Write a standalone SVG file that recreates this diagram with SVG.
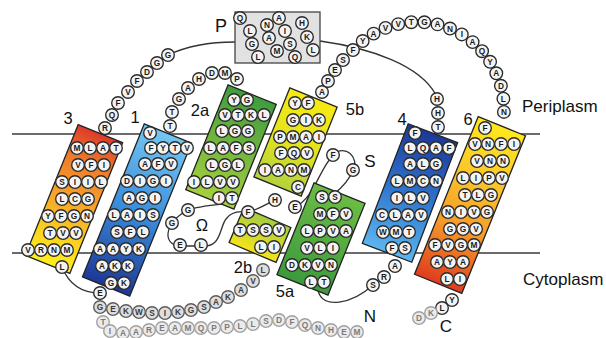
<svg xmlns="http://www.w3.org/2000/svg" width="606" height="338" viewBox="0 0 606 338">
<style>
.bg{fill:#fff}
.mem{stroke:#3a3a3a;stroke-width:1.6}
.con path{fill:none;stroke:#333;stroke-width:1.3}
.hx{stroke:#222;stroke-width:1.3}
.r circle{fill:#f3f3f3;stroke:#2a2a2a;stroke-width:1.35}
.r text{font-family:"Liberation Sans",Arial,sans-serif;font-size:8.3px;font-weight:bold;text-anchor:middle;dominant-baseline:central;fill:#1a1a1a}
.m circle{fill:#dedede;stroke:#5c5c5c}
.m text{fill:#3a3a3a}
.f circle{fill:#ebebeb;stroke:#a0a0a0}
.f text{fill:#7a7a7a}
.lb{font-family:"Liberation Sans",Arial,sans-serif;font-size:16.5px;fill:#111;text-anchor:middle}
.lt{font-family:"Liberation Sans",Arial,sans-serif;font-size:17px;fill:#111}
</style>
<defs>
<linearGradient id="g3" x1="0" y1="0" x2="0" y2="1"><stop offset="0" stop-color="#dc3a2a"/><stop offset=".22" stop-color="#ee7a2c"/><stop offset=".55" stop-color="#f6a92a"/><stop offset=".8" stop-color="#fbd320"/><stop offset="1" stop-color="#fff01c"/></linearGradient>
<linearGradient id="g1" x1="0" y1="0" x2="0" y2="1"><stop offset="0" stop-color="#74c6f2"/><stop offset=".5" stop-color="#3b8edc"/><stop offset="1" stop-color="#1d3896"/></linearGradient>
<linearGradient id="g2a" x1="0" y1="0" x2="0" y2="1"><stop offset="0" stop-color="#3f9c3f"/><stop offset="1" stop-color="#a6d03e"/></linearGradient>
<linearGradient id="g5b" x1="0" y1="0" x2="0" y2="1"><stop offset="0" stop-color="#f7ea14"/><stop offset=".5" stop-color="#e4e31e"/><stop offset="1" stop-color="#b3d23c"/></linearGradient>
<linearGradient id="g2b" x1="0" y1="0" x2="0" y2="1"><stop offset="0" stop-color="#a3cc40"/><stop offset="1" stop-color="#f5e41a"/></linearGradient>
<linearGradient id="g5a" x1="0" y1="0" x2="0" y2="1"><stop offset="0" stop-color="#6cbc44"/><stop offset="1" stop-color="#3c9a3c"/></linearGradient>
<linearGradient id="g4" x1="0" y1="0" x2="0" y2="1"><stop offset="0" stop-color="#1c3898"/><stop offset=".5" stop-color="#2f74cc"/><stop offset="1" stop-color="#5cb6ee"/></linearGradient>
<linearGradient id="g6" x1="0" y1="0" x2="0" y2="1"><stop offset="0" stop-color="#ffe81c"/><stop offset=".3" stop-color="#fbca2a"/><stop offset=".65" stop-color="#f59a2a"/><stop offset="1" stop-color="#de3c1e"/></linearGradient>
</defs>
<rect class="bg" x="0" y="0" width="606" height="338"/>
<g id="membrane">
<line class="mem" x1="12" y1="134" x2="540" y2="134"/>
<line class="mem" x1="12" y1="253" x2="540" y2="253"/>
</g>
<g id="connectors" class="con">
<path d="M168,55 C185,47 205,42 235,42"/>
<path d="M320,41 C370,48 420,65 436,95"/>
<path d="M222,204 C205,206 190,207 180,215 C166,225 162,244 180,246 L201,246 C222,248 219,228 226,219 C231,212 238,211 246,212"/>
<path d="M275,200 C265,205 257,210 248,212"/>
<path d="M295,207 C314,198 318,172 333,155 C345,143 360,158 353,170 C350,178 344,186 334,194"/>
<path d="M373,285 C352,304 322,310 318,290"/>
<path d="M62,267 C70,287 85,293 100,293"/>
</g>
<g id="pbox">
<rect x="235" y="12" width="85" height="51" fill="#e2e2e2" stroke="#444" stroke-width="1.3"/>
<g class="r">
<circle cx="240" cy="18" r="6.3"/><text x="240" y="18">Q</text>
<circle cx="267" cy="25" r="6.3"/><text x="267" y="25">N</text>
<circle cx="279" cy="18" r="6.3"/><text x="279" y="18">A</text>
<circle cx="302" cy="23" r="6.3"/><text x="302" y="23">H</text>
<circle cx="250" cy="31" r="6.3"/><text x="250" y="31">L</text>
<circle cx="269" cy="38" r="6.3"/><text x="269" y="38">A</text>
<circle cx="285" cy="31" r="6.3"/><text x="285" y="31">I</text>
<circle cx="307" cy="37" r="6.3"/><text x="307" y="37">K</text>
<circle cx="252" cy="44" r="6.3"/><text x="252" y="44">G</text>
<circle cx="277" cy="51" r="6.3"/><text x="277" y="51">M</text>
<circle cx="290" cy="44" r="6.3"/><text x="290" y="44">S</text>
<circle cx="313" cy="50" r="6.3"/><text x="313" y="50">L</text>
<circle cx="258" cy="57" r="6.3"/><text x="258" y="57">L</text>
<circle cx="295" cy="57" r="6.3"/><text x="295" y="57">Q</text>
</g>
</g>
<g id="helix3">
<rect class="hx" x="-24" y="-70.5" width="48" height="141" fill="url(#g3)" transform="translate(74 199) rotate(22)"/>
<g class="r">
<circle cx="77" cy="148" r="6.3"/><text x="77" y="148">M</text>
<circle cx="90" cy="148" r="6.3"/><text x="90" y="148">L</text>
<circle cx="103" cy="148" r="6.3"/><text x="103" y="148">A</text>
<circle cx="116" cy="148" r="6.3"/><text x="116" y="148">T</text>
<circle cx="78" cy="165" r="6.3"/><text x="78" y="165">V</text>
<circle cx="91" cy="165" r="6.3"/><text x="91" y="165">F</text>
<circle cx="104" cy="165" r="6.3"/><text x="104" y="165">I</text>
<circle cx="62" cy="182" r="6.3"/><text x="62" y="182">S</text>
<circle cx="75" cy="182" r="6.3"/><text x="75" y="182">I</text>
<circle cx="88" cy="182" r="6.3"/><text x="88" y="182">I</text>
<circle cx="101" cy="182" r="6.3"/><text x="101" y="182">L</text>
<circle cx="62" cy="199" r="6.3"/><text x="62" y="199">L</text>
<circle cx="75" cy="199" r="6.3"/><text x="75" y="199">C</text>
<circle cx="88" cy="199" r="6.3"/><text x="88" y="199">G</text>
<circle cx="48" cy="216" r="6.3"/><text x="48" y="216">Y</text>
<circle cx="61" cy="216" r="6.3"/><text x="61" y="216">F</text>
<circle cx="74" cy="216" r="6.3"/><text x="74" y="216">G</text>
<circle cx="87" cy="216" r="6.3"/><text x="87" y="216">N</text>
<circle cx="50" cy="233" r="6.3"/><text x="50" y="233">T</text>
<circle cx="63" cy="233" r="6.3"/><text x="63" y="233">V</text>
<circle cx="76" cy="233" r="6.3"/><text x="76" y="233">V</text>
<circle cx="28" cy="250" r="6.3"/><text x="28" y="250">V</text>
<circle cx="41" cy="250" r="6.3"/><text x="41" y="250">R</text>
<circle cx="54" cy="250" r="6.3"/><text x="54" y="250">N</text>
<circle cx="67" cy="250" r="6.3"/><text x="67" y="250">M</text>
<circle cx="62" cy="267" r="6.3"/><text x="62" y="267">L</text>
</g>
</g>
<g id="helix1">
<rect class="hx" x="-25.5" y="-82.5" width="51" height="165" fill="url(#g1)" transform="translate(137 210) rotate(22)"/>
<g class="r">
<circle cx="150" cy="133" r="6.3"/><text x="150" y="133">V</text>
<circle cx="151" cy="148" r="6.3"/><text x="151" y="148">F</text>
<circle cx="163" cy="148" r="6.3"/><text x="163" y="148">Y</text>
<circle cx="175" cy="148" r="6.3"/><text x="175" y="148">T</text>
<circle cx="187" cy="148" r="6.3"/><text x="187" y="148">V</text>
<circle cx="145" cy="164" r="6.3"/><text x="145" y="164">A</text>
<circle cx="158" cy="164" r="6.3"/><text x="158" y="164">F</text>
<circle cx="171" cy="164" r="6.3"/><text x="171" y="164">V</text>
<circle cx="127" cy="181" r="6.3"/><text x="127" y="181">D</text>
<circle cx="140" cy="181" r="6.3"/><text x="140" y="181">I</text>
<circle cx="153" cy="181" r="6.3"/><text x="153" y="181">G</text>
<circle cx="166" cy="181" r="6.3"/><text x="166" y="181">I</text>
<circle cx="129" cy="198" r="6.3"/><text x="129" y="198">A</text>
<circle cx="142" cy="198" r="6.3"/><text x="142" y="198">G</text>
<circle cx="155" cy="198" r="6.3"/><text x="155" y="198">I</text>
<circle cx="114" cy="215" r="6.3"/><text x="114" y="215">L</text>
<circle cx="127" cy="215" r="6.3"/><text x="127" y="215">A</text>
<circle cx="140" cy="215" r="6.3"/><text x="140" y="215">I</text>
<circle cx="153" cy="215" r="6.3"/><text x="153" y="215">S</text>
<circle cx="117" cy="232" r="6.3"/><text x="117" y="232">S</text>
<circle cx="130" cy="232" r="6.3"/><text x="130" y="232">F</text>
<circle cx="143" cy="232" r="6.3"/><text x="143" y="232">L</text>
<circle cx="100" cy="249" r="6.3"/><text x="100" y="249">A</text>
<circle cx="113" cy="249" r="6.3"/><text x="113" y="249">A</text>
<circle cx="126" cy="249" r="6.3"/><text x="126" y="249">Y</text>
<circle cx="139" cy="249" r="6.3"/><text x="139" y="249">K</text>
<circle cx="102" cy="266" r="6.3"/><text x="102" y="266">A</text>
<circle cx="115" cy="266" r="6.3"/><text x="115" y="266">K</text>
<circle cx="128" cy="266" r="6.3"/><text x="128" y="266">K</text>
<circle cx="111" cy="283" r="6.3"/><text x="111" y="283">G</text>
<circle cx="124" cy="283" r="6.3"/><text x="124" y="283">K</text>
</g>
</g>
<g id="helix2a">
<rect class="hx" x="-26" y="-56.5" width="52" height="113" fill="url(#g2a)" transform="translate(231 147) rotate(22)"/>
<g class="r">
<circle cx="234" cy="100" r="6.3"/><text x="234" y="100">Y</text>
<circle cx="247" cy="100" r="6.3"/><text x="247" y="100">G</text>
<circle cx="225" cy="115" r="6.3"/><text x="225" y="115">V</text>
<circle cx="238" cy="115" r="6.3"/><text x="238" y="115">T</text>
<circle cx="251" cy="115" r="6.3"/><text x="251" y="115">K</text>
<circle cx="264" cy="115" r="6.3"/><text x="264" y="115">L</text>
<circle cx="222" cy="131" r="6.3"/><text x="222" y="131">L</text>
<circle cx="235" cy="131" r="6.3"/><text x="235" y="131">G</text>
<circle cx="248" cy="131" r="6.3"/><text x="248" y="131">G</text>
<circle cx="210" cy="148" r="6.3"/><text x="210" y="148">L</text>
<circle cx="223" cy="148" r="6.3"/><text x="223" y="148">A</text>
<circle cx="236" cy="148" r="6.3"/><text x="236" y="148">F</text>
<circle cx="249" cy="148" r="6.3"/><text x="249" y="148">S</text>
<circle cx="212" cy="165" r="6.3"/><text x="212" y="165">L</text>
<circle cx="225" cy="165" r="6.3"/><text x="225" y="165">G</text>
<circle cx="238" cy="165" r="6.3"/><text x="238" y="165">L</text>
<circle cx="194" cy="182" r="6.3"/><text x="194" y="182">I</text>
<circle cx="207" cy="182" r="6.3"/><text x="207" y="182">L</text>
<circle cx="220" cy="182" r="6.3"/><text x="220" y="182">V</text>
<circle cx="233" cy="182" r="6.3"/><text x="233" y="182">V</text>
<circle cx="219" cy="198" r="6.3"/><text x="219" y="198">I</text>
<circle cx="232" cy="198" r="6.3"/><text x="232" y="198">T</text>
</g>
</g>
<g id="helix5b">
<rect class="hx" x="-25.5" y="-48" width="51" height="96" fill="url(#g5b)" transform="translate(295.5 142) rotate(22)"/>
<g class="r">
<circle cx="295" cy="103" r="6.3"/><text x="295" y="103">Y</text>
<circle cx="308" cy="103" r="6.3"/><text x="308" y="103">F</text>
<circle cx="293" cy="120" r="6.3"/><text x="293" y="120">G</text>
<circle cx="306" cy="120" r="6.3"/><text x="306" y="120">I</text>
<circle cx="319" cy="120" r="6.3"/><text x="319" y="120">K</text>
<circle cx="280" cy="137" r="6.3"/><text x="280" y="137">P</text>
<circle cx="293" cy="137" r="6.3"/><text x="293" y="137">M</text>
<circle cx="306" cy="137" r="6.3"/><text x="306" y="137">A</text>
<circle cx="319" cy="137" r="6.3"/><text x="319" y="137">I</text>
<circle cx="281" cy="153" r="6.3"/><text x="281" y="153">F</text>
<circle cx="294" cy="153" r="6.3"/><text x="294" y="153">Q</text>
<circle cx="307" cy="153" r="6.3"/><text x="307" y="153">V</text>
<circle cx="265" cy="170" r="6.3"/><text x="265" y="170">I</text>
<circle cx="278" cy="170" r="6.3"/><text x="278" y="170">A</text>
<circle cx="291" cy="170" r="6.3"/><text x="291" y="170">N</text>
<circle cx="304" cy="170" r="6.3"/><text x="304" y="170">M</text>
<circle cx="298" cy="187" r="6.3"/><text x="298" y="187">C</text>
</g>
</g>
<g id="helix2b">
<rect class="hx" x="-25.5" y="-19" width="51" height="38" fill="url(#g2b)" transform="translate(260 235) rotate(23)"/>
<g class="r">
<circle cx="248" cy="212" r="6.3"/><text x="248" y="212">F</text>
<circle cx="240" cy="230" r="6.3"/><text x="240" y="230">T</text>
<circle cx="253" cy="230" r="6.3"/><text x="253" y="230">S</text>
<circle cx="266" cy="230" r="6.3"/><text x="266" y="230">S</text>
<circle cx="279" cy="230" r="6.3"/><text x="279" y="230">V</text>
<circle cx="261" cy="247" r="6.3"/><text x="261" y="247">L</text>
<circle cx="274" cy="247" r="6.3"/><text x="274" y="247">I</text>
</g>
</g>
<g id="helix5a">
<rect class="hx" x="-27.5" y="-49.5" width="55" height="99" fill="url(#g5a)" transform="translate(321 239) rotate(22)"/>
<g class="r">
<circle cx="322" cy="197" r="6.3"/><text x="322" y="197">S</text>
<circle cx="335" cy="197" r="6.3"/><text x="335" y="197">S</text>
<circle cx="320" cy="214" r="6.3"/><text x="320" y="214">M</text>
<circle cx="333" cy="214" r="6.3"/><text x="333" y="214">F</text>
<circle cx="346" cy="214" r="6.3"/><text x="346" y="214">V</text>
<circle cx="307" cy="231" r="6.3"/><text x="307" y="231">L</text>
<circle cx="320" cy="231" r="6.3"/><text x="320" y="231">P</text>
<circle cx="333" cy="231" r="6.3"/><text x="333" y="231">V</text>
<circle cx="346" cy="231" r="6.3"/><text x="346" y="231">A</text>
<circle cx="307" cy="248" r="6.3"/><text x="307" y="248">V</text>
<circle cx="320" cy="248" r="6.3"/><text x="320" y="248">L</text>
<circle cx="333" cy="248" r="6.3"/><text x="333" y="248">I</text>
<circle cx="292" cy="265" r="6.3"/><text x="292" y="265">D</text>
<circle cx="305" cy="265" r="6.3"/><text x="305" y="265">K</text>
<circle cx="318" cy="265" r="6.3"/><text x="318" y="265">V</text>
<circle cx="331" cy="265" r="6.3"/><text x="331" y="265">N</text>
<circle cx="311" cy="282" r="6.3"/><text x="311" y="282">L</text>
<circle cx="324" cy="282" r="6.3"/><text x="324" y="282">T</text>
</g>
</g>
<g id="helix4">
<rect class="hx" x="-26.5" y="-64" width="53" height="128" fill="url(#g4)" transform="translate(410 193) rotate(21)"/>
<g class="r">
<circle cx="415" cy="133" r="6.3"/><text x="415" y="133">F</text>
<circle cx="410" cy="148" r="6.3"/><text x="410" y="148">L</text>
<circle cx="423" cy="148" r="6.3"/><text x="423" y="148">Q</text>
<circle cx="436" cy="148" r="6.3"/><text x="436" y="148">A</text>
<circle cx="449" cy="148" r="6.3"/><text x="449" y="148">F</text>
<circle cx="410" cy="164" r="6.3"/><text x="410" y="164">A</text>
<circle cx="423" cy="164" r="6.3"/><text x="423" y="164">L</text>
<circle cx="436" cy="164" r="6.3"/><text x="436" y="164">G</text>
<circle cx="397" cy="181" r="6.3"/><text x="397" y="181">L</text>
<circle cx="410" cy="181" r="6.3"/><text x="410" y="181">M</text>
<circle cx="423" cy="181" r="6.3"/><text x="423" y="181">C</text>
<circle cx="436" cy="181" r="6.3"/><text x="436" y="181">N</text>
<circle cx="397" cy="198" r="6.3"/><text x="397" y="198">I</text>
<circle cx="410" cy="198" r="6.3"/><text x="410" y="198">L</text>
<circle cx="423" cy="198" r="6.3"/><text x="423" y="198">V</text>
<circle cx="382" cy="215" r="6.3"/><text x="382" y="215">C</text>
<circle cx="395" cy="215" r="6.3"/><text x="395" y="215">L</text>
<circle cx="408" cy="215" r="6.3"/><text x="408" y="215">A</text>
<circle cx="421" cy="215" r="6.3"/><text x="421" y="215">V</text>
<circle cx="383" cy="232" r="6.3"/><text x="383" y="232">W</text>
<circle cx="396" cy="232" r="6.3"/><text x="396" y="232">M</text>
<circle cx="409" cy="232" r="6.3"/><text x="409" y="232">T</text>
<circle cx="392" cy="248" r="6.3"/><text x="392" y="248">F</text>
<circle cx="405" cy="248" r="6.3"/><text x="405" y="248">S</text>
</g>
</g>
<g id="helix6">
<rect class="hx" x="-25.5" y="-85" width="51" height="170" fill="url(#g6)" transform="translate(470 205) rotate(22)"/>
<g class="r">
<circle cx="485" cy="128" r="6.3"/><text x="485" y="128">F</text>
<circle cx="475" cy="144" r="6.3"/><text x="475" y="144">V</text>
<circle cx="488" cy="144" r="6.3"/><text x="488" y="144">N</text>
<circle cx="501" cy="144" r="6.3"/><text x="501" y="144">F</text>
<circle cx="514" cy="144" r="6.3"/><text x="514" y="144">I</text>
<circle cx="477" cy="161" r="6.3"/><text x="477" y="161">V</text>
<circle cx="490" cy="161" r="6.3"/><text x="490" y="161">N</text>
<circle cx="503" cy="161" r="6.3"/><text x="503" y="161">N</text>
<circle cx="463" cy="178" r="6.3"/><text x="463" y="178">L</text>
<circle cx="476" cy="178" r="6.3"/><text x="476" y="178">I</text>
<circle cx="489" cy="178" r="6.3"/><text x="489" y="178">P</text>
<circle cx="502" cy="178" r="6.3"/><text x="502" y="178">V</text>
<circle cx="465" cy="195" r="6.3"/><text x="465" y="195">T</text>
<circle cx="478" cy="195" r="6.3"/><text x="478" y="195">L</text>
<circle cx="491" cy="195" r="6.3"/><text x="491" y="195">G</text>
<circle cx="448" cy="212" r="6.3"/><text x="448" y="212">N</text>
<circle cx="461" cy="212" r="6.3"/><text x="461" y="212">I</text>
<circle cx="474" cy="212" r="6.3"/><text x="474" y="212">V</text>
<circle cx="487" cy="212" r="6.3"/><text x="487" y="212">G</text>
<circle cx="450" cy="229" r="6.3"/><text x="450" y="229">G</text>
<circle cx="463" cy="229" r="6.3"/><text x="463" y="229">G</text>
<circle cx="476" cy="229" r="6.3"/><text x="476" y="229">V</text>
<circle cx="435" cy="245" r="6.3"/><text x="435" y="245">F</text>
<circle cx="448" cy="245" r="6.3"/><text x="448" y="245">V</text>
<circle cx="461" cy="245" r="6.3"/><text x="461" y="245">G</text>
<circle cx="474" cy="245" r="6.3"/><text x="474" y="245">M</text>
<circle cx="437" cy="262" r="6.3"/><text x="437" y="262">A</text>
<circle cx="450" cy="262" r="6.3"/><text x="450" y="262">Y</text>
<circle cx="463" cy="262" r="6.3"/><text x="463" y="262">A</text>
<circle cx="447" cy="279" r="6.3"/><text x="447" y="279">L</text>
<circle cx="460" cy="279" r="6.3"/><text x="460" y="279">I</text>
</g>
</g>
<g id="loop-3-P" class="r">
<circle cx="105" cy="128" r="6.3"/><text x="105" y="128">R</text>
<circle cx="112" cy="115" r="6.3"/><text x="112" y="115">Q</text>
<circle cx="118" cy="103" r="6.3"/><text x="118" y="103">F</text>
<circle cx="128" cy="92" r="6.3"/><text x="128" y="92">V</text>
<circle cx="137" cy="81" r="6.3"/><text x="137" y="81">F</text>
<circle cx="147" cy="72" r="6.3"/><text x="147" y="72">D</text>
<circle cx="157" cy="63" r="6.3"/><text x="157" y="63">G</text>
<circle cx="168" cy="55" r="6.3"/><text x="168" y="55">G</text>
</g>
<g id="loop-1-2a" class="r">
<circle cx="170" cy="126" r="6.3"/><text x="170" y="126">T</text>
<circle cx="172" cy="112" r="6.3"/><text x="172" y="112">T</text>
<circle cx="179" cy="99" r="6.3"/><text x="179" y="99">G</text>
<circle cx="188" cy="88" r="6.3"/><text x="188" y="88">A</text>
<circle cx="199" cy="79" r="6.3"/><text x="199" y="79">H</text>
<circle cx="212" cy="73" r="6.3"/><text x="212" y="73">D</text>
<circle cx="225" cy="73" r="6.3"/><text x="225" y="73">M</text>
<circle cx="237" cy="79" r="6.3"/><text x="237" y="79">P</text>
</g>
<g id="loop-P-4" class="r">
<circle cx="437" cy="99" r="6.3"/><text x="437" y="99">H</text>
<circle cx="438" cy="113" r="6.3"/><text x="438" y="113">H</text>
<circle cx="438" cy="127" r="6.3"/><text x="438" y="127">T</text>
</g>
<g id="loop-5b-6" class="r">
<circle cx="322" cy="92" r="6.3"/><text x="322" y="92">A</text>
<circle cx="328" cy="81" r="6.3"/><text x="328" y="81">P</text>
<circle cx="335" cy="70" r="6.3"/><text x="335" y="70">E</text>
<circle cx="343" cy="60" r="6.3"/><text x="343" y="60">S</text>
<circle cx="353" cy="50" r="6.3"/><text x="353" y="50">F</text>
<circle cx="362.7" cy="41" r="6.3"/><text x="362.7" y="41">Y</text>
<circle cx="373.6" cy="33.6" r="6.3"/><text x="373.6" y="33.6">A</text>
<circle cx="385.5" cy="27.9" r="6.3"/><text x="385.5" y="27.9">V</text>
<circle cx="398.2" cy="24.1" r="6.3"/><text x="398.2" y="24.1">V</text>
<circle cx="411.3" cy="22.2" r="6.3"/><text x="411.3" y="22.2">T</text>
<circle cx="424.4" cy="22.3" r="6.3"/><text x="424.4" y="22.3">G</text>
<circle cx="437.5" cy="24.4" r="6.3"/><text x="437.5" y="24.4">A</text>
<circle cx="450" cy="28.5" r="6.3"/><text x="450" y="28.5">N</text>
<circle cx="461.8" cy="34.4" r="6.3"/><text x="461.8" y="34.4">I</text>
<circle cx="472.6" cy="42.1" r="6.3"/><text x="472.6" y="42.1">A</text>
<circle cx="482.1" cy="51.2" r="6.3"/><text x="482.1" y="51.2">Q</text>
<circle cx="490.1" cy="61.8" r="6.3"/><text x="490.1" y="61.8">Y</text>
<circle cx="496.3" cy="73.3" r="6.3"/><text x="496.3" y="73.3">A</text>
<circle cx="500.9" cy="85.8" r="6.3"/><text x="500.9" y="85.8">D</text>
<circle cx="503.4" cy="98.7" r="6.3"/><text x="503.4" y="98.7">L</text>
<circle cx="503.9" cy="111.9" r="6.3"/><text x="503.9" y="111.9">N</text>
</g>
<g id="loop-omega" class="r">
<circle cx="188" cy="210" r="6.3"/><text x="188" y="210">G</text>
<circle cx="172" cy="223" r="6.3"/><text x="172" y="223">G</text>
<circle cx="180" cy="245" r="6.3"/><text x="180" y="245">E</text>
<circle cx="201" cy="245" r="6.3"/><text x="201" y="245">L</text>
</g>
<g id="loop-S" class="r">
<circle cx="333" cy="155" r="6.3"/><text x="333" y="155">F</text>
<circle cx="353" cy="170" r="6.3"/><text x="353" y="170">G</text>
<circle cx="275" cy="200" r="6.3"/><text x="275" y="200">H</text>
<circle cx="295" cy="207" r="6.3"/><text x="295" y="207">E</text>
</g>
<g id="loop-4-5a" class="r">
<circle cx="395" cy="266" r="6.3"/><text x="395" y="266">A</text>
<circle cx="384" cy="277" r="6.3"/><text x="384" y="277">R</text>
<circle cx="373" cy="285" r="6.3"/><text x="373" y="285">S</text>
</g>
<g id="c-term" class="r">
<circle cx="452" cy="300" r="6.3"/><text x="452" y="300">Y</text>
<circle cx="442" cy="308" r="6.3"/><text x="442" y="308">L</text>
<g class="f">
<circle cx="431" cy="313" r="6.3"/><text x="431" y="313">K</text>
<circle cx="419" cy="318" r="6.3"/><text x="419" y="318">D</text>
</g>
</g>
<g id="loop-2b-3" class="r">
<circle cx="100" cy="293" r="6.3"/><text x="100" y="293">E</text>
<g class="m">
<circle cx="100" cy="307" r="6.3"/><text x="100" y="307">G</text>
<circle cx="113" cy="309" r="6.3"/><text x="113" y="309">E</text>
<circle cx="126" cy="311" r="6.3"/><text x="126" y="311">K</text>
<circle cx="139" cy="312" r="6.3"/><text x="139" y="312">W</text>
<circle cx="152" cy="313" r="6.3"/><text x="152" y="313">S</text>
<circle cx="165" cy="313" r="6.3"/><text x="165" y="313">I</text>
<circle cx="178" cy="312" r="6.3"/><text x="178" y="312">K</text>
<circle cx="191" cy="310" r="6.3"/><text x="191" y="310">G</text>
<circle cx="204" cy="307" r="6.3"/><text x="204" y="307">S</text>
<circle cx="216" cy="302" r="6.3"/><text x="216" y="302">A</text>
<circle cx="228" cy="297" r="6.3"/><text x="228" y="297">K</text>
<circle cx="241" cy="290" r="6.3"/><text x="241" y="290">A</text>
<circle cx="253" cy="281" r="6.3"/><text x="253" y="281">V</text>
<circle cx="263" cy="270" r="6.3"/><text x="263" y="270">L</text>
</g>
</g>
<g id="n-term" class="r f">
<circle cx="103" cy="322" r="6.3"/><text x="103" y="322">T</text>
<circle cx="110" cy="331" r="6.3"/><text x="110" y="331">I</text>
<circle cx="123" cy="333" r="6.3"/><text x="123" y="333">A</text>
<circle cx="136" cy="332" r="6.3"/><text x="136" y="332">A</text>
<circle cx="149" cy="330" r="6.3"/><text x="149" y="330">R</text>
<circle cx="162" cy="328" r="6.3"/><text x="162" y="328">E</text>
<circle cx="175" cy="328" r="6.3"/><text x="175" y="328">A</text>
<circle cx="188" cy="328" r="6.3"/><text x="188" y="328">M</text>
<circle cx="201" cy="328" r="6.3"/><text x="201" y="328">Q</text>
<circle cx="214" cy="328" r="6.3"/><text x="214" y="328">P</text>
<circle cx="227" cy="327" r="6.3"/><text x="227" y="327">P</text>
<circle cx="240" cy="326" r="6.3"/><text x="240" y="326">L</text>
<circle cx="253" cy="324" r="6.3"/><text x="253" y="324">L</text>
<circle cx="266" cy="321" r="6.3"/><text x="266" y="321">S</text>
<circle cx="279" cy="320" r="6.3"/><text x="279" y="320">D</text>
<circle cx="292" cy="322" r="6.3"/><text x="292" y="322">F</text>
<circle cx="305" cy="325" r="6.3"/><text x="305" y="325">Q</text>
<circle cx="318" cy="328" r="6.3"/><text x="318" y="328">N</text>
<circle cx="331" cy="330" r="6.3"/><text x="331" y="330">H</text>
<circle cx="344" cy="332" r="6.3"/><text x="344" y="332">E</text>
<circle cx="357" cy="332" r="6.3"/><text x="357" y="332">M</text>
</g>
<g id="labels">
<text class="lb" x="68" y="124">3</text>
<text class="lb" x="135" y="123">1</text>
<text class="lb" x="200" y="116">2a</text>
<text class="lb" x="221" y="32" style="font-size:18px">P</text>
<text class="lb" x="355" y="115">5b</text>
<text class="lb" x="402" y="125">4</text>
<text class="lb" x="468" y="125">6</text>
<text class="lb" x="370" y="167" style="font-size:17px">S</text>
<text class="lb" x="202" y="231">Ω</text>
<text class="lb" x="243" y="273">2b</text>
<text class="lb" x="285" y="297">5a</text>
<text class="lb" x="370" y="322" style="font-size:17px">N</text>
<text class="lb" x="446" y="332" style="font-size:17px">C</text>
<text class="lt" x="522" y="112">Periplasm</text>
<text class="lt" x="523" y="285">Cytoplasm</text>
</g>
</svg>
